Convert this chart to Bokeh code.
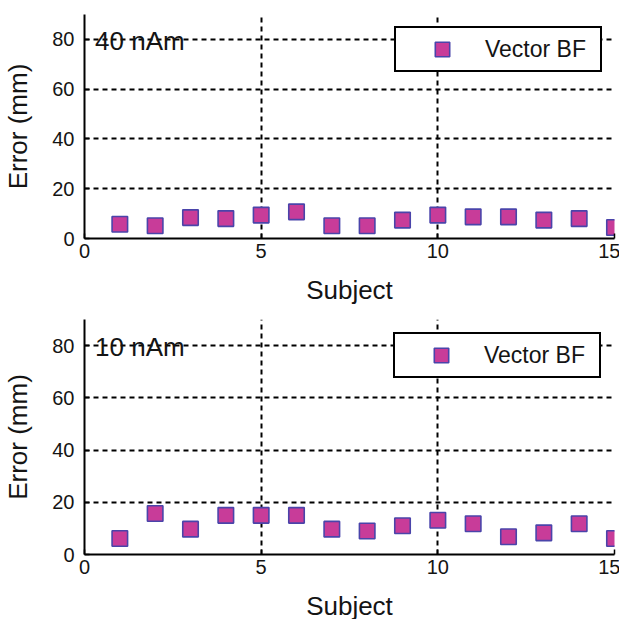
from bokeh.plotting import figure
from bokeh.layouts import column
from bokeh.models import ColumnDataSource, FixedTicker, Legend, LegendItem, Label, Range1d
from bokeh.embed import file_html
from bokeh.resources import INLINE

# ---- data ----
subjects = [1, 2, 3, 4, 5, 6, 7, 8, 9, 10, 11, 12, 13, 14, 15]
err_40nAm = [5.7, 5.1, 8.4, 8.0, 9.4, 10.7, 5.1, 5.1, 7.4, 9.4, 8.7, 8.7, 7.4, 8.0, 4.4]
err_10nAm = [6.1, 15.7, 9.7, 15.0, 15.0, 15.0, 9.7, 9.0, 11.0, 13.1, 11.8, 6.8, 8.3, 11.8, 6.1]
panel_labels = ["40 nAm", "10 nAm"]
series_name = "Vector BF"
x_ticks = [0, 5, 10, 15]
y_ticks = [0, 20, 40, 60, 80]
x_label = "Subject"
y_label = "Error (mm)"

FONT = "Liberation Sans"
TXT = "#141414"
FILL = "#c83c99"
EDGE = "#4a44aa"


def make_panel(values, tag, frame_h, top, bottom, legend_margin):
    p = figure(frame_width=530, frame_height=frame_h,
               min_border_left=83, min_border_right=6,
               min_border_top=top, min_border_bottom=bottom,
               x_range=Range1d(0, 15), y_range=Range1d(0, 90),
               output_backend="svg", toolbar_location=None,
               background_fill_color="white", border_fill_color="white")
    p.outline_line_color = None

    src = ColumnDataSource(data=dict(x=subjects, y=values))
    r = p.scatter("x", "y", source=src, marker="square", size=15.5,
                  fill_color=FILL, line_color=EDGE, line_width=1.6)

    # grids
    for g in (p.xgrid, p.ygrid):
        g.grid_line_color = "black"
        g.grid_line_dash = "5 4"
        g.grid_line_width = 2
        g.grid_line_alpha = 1.0
    p.xgrid.ticker = FixedTicker(ticks=x_ticks)
    p.ygrid.ticker = FixedTicker(ticks=y_ticks)

    # axes
    p.xaxis.ticker = FixedTicker(ticks=x_ticks)
    p.yaxis.ticker = FixedTicker(ticks=y_ticks)
    p.xaxis.axis_label = x_label
    p.yaxis.axis_label = y_label
    for ax in (p.xaxis[0], p.yaxis[0]):
        ax.axis_line_color = "black"
        ax.axis_line_width = 2
        ax.major_tick_in = 5
        ax.major_tick_out = 0
        ax.major_tick_line_color = "black"
        ax.major_tick_line_width = 1.5
        ax.minor_tick_line_color = None
        ax.major_label_text_font = FONT
        ax.major_label_text_font_size = "20px"
        ax.major_label_text_color = TXT
        ax.axis_label_text_font = FONT
        ax.axis_label_text_font_size = "26px"
        ax.axis_label_text_font_style = "normal"
        ax.axis_label_text_color = TXT
    p.xaxis.major_label_standoff = 5
    p.xaxis.axis_label_standoff = 14
    p.yaxis.major_label_standoff = 10
    p.yaxis.axis_label_standoff = 16

    # panel annotation
    p.add_layout(Label(x=0.3, y=79.5, text=tag, text_font=FONT,
                       text_font_size="26px", text_color=TXT,
                       text_baseline="middle", text_align="left"))

    # legend
    leg = Legend(items=[LegendItem(label=series_name, renderers=[r])],
                 location="top_right", margin=legend_margin, padding=3,
                 glyph_width=86, glyph_height=36, label_standoff=0,
                 label_width=112,
                 label_text_font=FONT, label_text_font_size="23px",
                 label_text_color=TXT,
                 border_line_color="black", border_line_width=2.5,
                 border_line_alpha=1.0,
                 background_fill_color="white", background_fill_alpha=1.0)
    p.add_layout(leg)
    return p


p1 = make_panel(err_40nAm, panel_labels[0], 224, 14, 72, 12)
p2 = make_panel(err_10nAm, panel_labels[1], 235, 9, 65, 13)

layout = column(p1, p2, spacing=0)
open("out.html", "w").write(file_html(layout, INLINE))
